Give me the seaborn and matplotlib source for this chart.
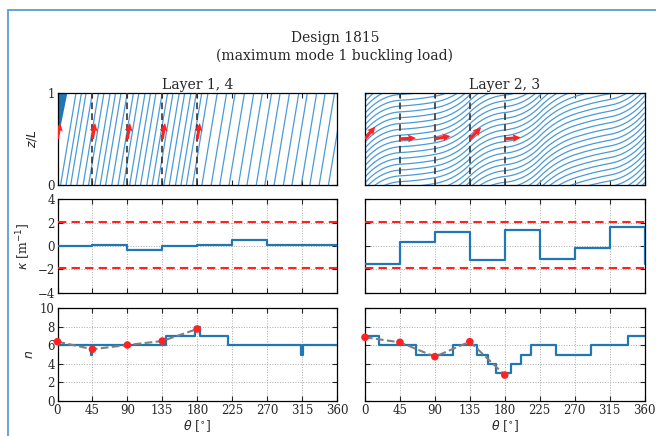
import numpy as np
import matplotlib
matplotlib.use('Agg')
import matplotlib.pyplot as plt
from matplotlib.lines import Line2D
import seaborn as sns

# section boundaries along the circumference
theta_edges = [0, 45, 90, 135, 180, 225, 270, 315, 360]
theta_ticks = [0, 45, 90, 135, 180, 225, 270, 315, 360]

# curvature per section
kappa_left = [0.0, 0.08, -0.3, 0.0, 0.1, 0.5, 0.05, 0.12]
kappa_right = [-1.5, 0.3, 1.2, -1.23, 1.35, -1.1, -0.15, 1.63]
kappa_max = 2.05
kappa_min = -1.9

# number of tows
n_left_edges = [0, 43, 45, 140, 176.5, 183, 219, 314, 316, 360]
n_left = [6, 5, 6, 7, 8, 7, 6, 5, 6]
n_right_edges = [0, 18.5, 66, 113, 144.5, 158.5, 169, 188.5, 201, 214, 246, 291, 339, 360]
n_right = [7, 6, 5, 6, 5, 4, 3, 4, 5, 6, 5, 6, 7]

# control points
pt_theta = [0, 45, 90, 135, 180]
pt_n_left = [6.4, 5.58, 6.04, 6.47, 7.77]
pt_n_right = [6.87, 6.33, 4.78, 6.4, 2.8]

# fibre angles (on screen, degrees from horizontal)
fiber_angle_left = 80.5
left_starts = [4, 11, 17, 25, 33, 40, 48, 55, 62, 70, 78, 85, 93, 100, 107, 115, 122,
               129, 137, 144, 152, 159, 166, 174, 186, 198, 209, 221, 233, 244, 256,
               267, 279, 291, 302, 314, 325, 337, 349]
wedge_top_theta = 12
wedge_tip_z = 0.5
path_angle_right = [50, 3, 10, 45, 5, 45, 18, 10, 50]
right_spacing = 0.063

blue = '#1f77b4'
fiber_blue = '#4b9bd6'

sns.set_style('ticks')
plt.rcParams['font.family'] = 'serif'
plt.rcParams['font.serif'] = ['DejaVu Serif']
plt.rcParams['mathtext.fontset'] = 'dejavusans'
plt.rcParams['xtick.labelsize'] = 8.5
plt.rcParams['ytick.labelsize'] = 8.5
plt.rcParams['axes.labelsize'] = 9

fig = plt.figure(figsize=(6.56, 4.36), dpi=100)
W, H = 656, 436
cols = [57.5, 365]
rows = [(92.7, 185), (199.3, 292.7), (308.3, 401)]
aw = 279.5
axes = [[fig.add_axes([c / W, 1 - r[1] / H, aw / W, (r[1] - r[0]) / H]) for c in cols] for r in rows]

for i, row in enumerate(axes):
    for j, ax in enumerate(row):
        ax.set_xlim(0, 360)
        ax.set_xticks(theta_ticks)
        ax.tick_params(direction='in', top=True, right=True, length=3.5, width=0.8,
                       labelbottom=(i == 2), labelleft=(j == 0), pad=2)
        for s in ax.spines.values():
            s.set_linewidth(0.9)
            s.set_color('black')

# --- fibre paths ---
px_deg = aw / 360
for j, ax in enumerate(axes[0]):
    ax.set_ylim(0, 1)
    ax.set_yticks([0, 1])
    hpx = rows[0][1] - rows[0][0]
    if j == 0:
        tilt = (hpx / np.tan(np.radians(fiber_angle_left))) / px_deg
        for x0 in left_starts:
            ax.plot([x0, x0 + tilt], [0, 1], color=fiber_blue, lw=0.9)
        ax.fill_betweenx([wedge_tip_z, 1], [0, 0], [0, wedge_top_theta], color=blue, lw=0)
        angles = [fiber_angle_left] * len(pt_theta)
    else:
        th = np.linspace(0, 360, 721)
        ang = np.interp(th, theta_edges, path_angle_right)
        slope = np.tan(np.radians(ang)) * px_deg / hpx
        f = np.concatenate([[0], np.cumsum(0.5 * (slope[1:] + slope[:-1]) * np.diff(th))])
        for off in np.arange(-f[-1] - 0.04, 1.05, right_spacing):
            ax.plot(th, f + off, color=fiber_blue, lw=0.9)
        angles = path_angle_right[:len(pt_theta)]
    for t in pt_theta[1:]:
        ax.axvline(t, color='#333333', ls='--', lw=1.2, dashes=(4, 2.5), zorder=3)
    a = np.radians(angles)
    ax.quiver(pt_theta, [0.5] * len(pt_theta), np.cos(a), np.sin(a), angles='uv',
              scale_units='inches', scale=1 / 0.16, color='#ff2222', width=0.011,
              headwidth=2.6, headlength=2.6, headaxislength=2.3, zorder=5)

axes[0][0].set_ylabel(r'$z/L$', labelpad=6)
axes[0][0].set_title('Layer 1, 4', fontsize=10, pad=3)
axes[0][1].set_title('Layer 2, 3', fontsize=10, pad=3)

# --- curvature ---
for ax, kap in zip(axes[1], [kappa_left, kappa_right]):
    ax.grid(True, ls=':', color='#aaaaaa', lw=0.7)
    sns.lineplot(x=theta_edges, y=kap + [kap[0]], drawstyle='steps-post', color=blue,
                 lw=1.6, ax=ax, zorder=3)
    ax.axhline(kappa_max, color='#ff2222', ls='--', lw=1.5, dashes=(4, 2.5), zorder=4)
    ax.axhline(kappa_min, color='#ff2222', ls='--', lw=1.5, dashes=(4, 2.5), zorder=4)
    ax.set_ylim(-4, 4)
    ax.set_yticks([-4, -2, 0, 2, 4])
    ax.set_ylabel('')
axes[1][0].set_ylabel(r'$\kappa$ [m$^{-1}$]', labelpad=3)

# --- number of tows ---
for ax, edges, nv, pn in zip(axes[2], [n_left_edges, n_right_edges], [n_left, n_right],
                            [pt_n_left, pt_n_right]):
    ax.grid(True, ls=':', color='#aaaaaa', lw=0.7)
    sns.lineplot(x=edges, y=nv + [nv[0]], drawstyle='steps-post', color=blue, lw=1.6,
                 ax=ax, zorder=3)
    sns.lineplot(x=pt_theta, y=pn, color='gray', ls='--', lw=1.5, ax=ax, zorder=4)
    sns.scatterplot(x=pt_theta, y=pn, color='#ff2222', s=30, edgecolor='none', ax=ax,
                    zorder=5, clip_on=False)
    ax.set_ylim(0, 10)
    ax.set_yticks([0, 2, 4, 6, 8, 10])
    ax.set_xlabel(r'$\theta$ [$^{\circ}$]', labelpad=1)
    ax.set_ylabel('')
axes[2][0].set_ylabel(r'$n$', labelpad=3)

fig.text(335 / W, 1 - 47 / H, 'Design 1815\n(maximum mode 1 buckling load)',
         ha='center', va='center', fontsize=10, linespacing=1.3)

# screenshot frame
fcol = '#5b9bd5'
fig.add_artist(Line2D([7.5 / W, 7.5 / W], [0, 1 - 10 / H], transform=fig.transFigure,
                      color=fcol, lw=1.3))
fig.add_artist(Line2D([7.5 / W, 1], [1 - 10 / H, 1 - 10 / H], transform=fig.transFigure,
                      color=fcol, lw=1.3))

fig.savefig('out.png', dpi=100, facecolor='white')
